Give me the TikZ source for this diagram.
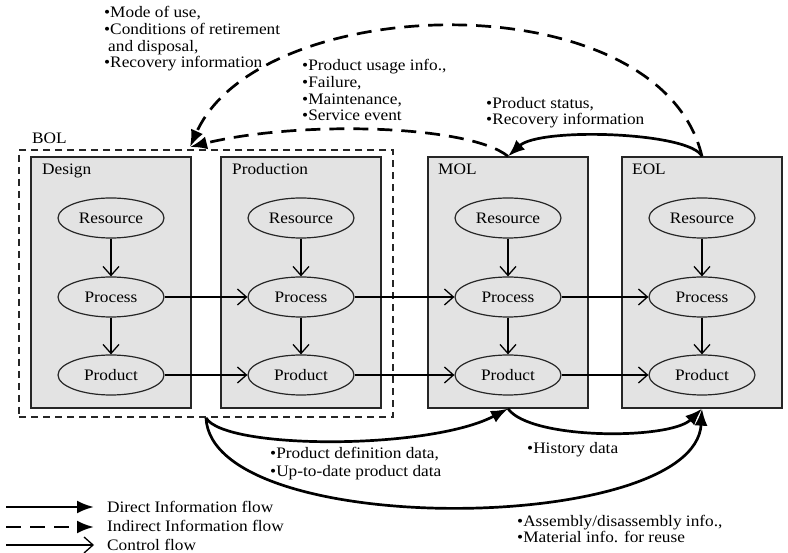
\documentclass[tikz,border=0pt]{standalone}
\usepackage{fontspec}
\setmainfont{Liberation Serif}[FakeStretch=1.08]
\usetikzlibrary{arrows.meta,shapes.geometric}

\tikzset{
  txt/.style={font=\fontsize{16}{16.8}\selectfont, inner sep=0pt, align=left},
  stage/.style={draw=black!85, line width=1.3pt, fill=black!11, minimum width=160pt, minimum height=251pt, inner sep=0pt},
  phase/.style={draw=black!85, line width=1.8pt, dash pattern=on 7pt off 5pt, minimum width=374pt, minimum height=267pt, inner sep=0pt},
  elem/.style={ellipse, draw=black!85, line width=1.2pt, fill=black!11, minimum width=106pt, minimum height=40pt, inner sep=0pt, font=\fontsize{16}{16.8}\selectfont},
  ctrl/.style={line width=1.3pt, -{Straight Barb[length=9pt,width=16pt,line width=1.3pt]}},
  direct/.style={line width=2.7pt, -{Latex[length=17pt,width=13pt]}},
  indirect/.style={line width=2.7pt, dash pattern=on 15pt off 9pt, -{Latex[length=17pt,width=13pt]}},
}

\begin{document}
\begin{tikzpicture}[x=1pt,y=-1pt]
\useasboundingbox (0,0) rectangle (788,553);
\fill[white] (0,0) rectangle (788,553);

% lifecycle stages
\node[phase] (bol) at (206,283.5) {};
\node[stage] (design) at (111,282.5) {};
\node[stage] (production) at (301,282.5) {};
\node[stage] (mol) at (508,282.5) {};
\node[stage] (eol) at (702,282.5) {};

\node[txt, anchor=base west] (bolname) at (32,144) {BOL};
\node[txt, anchor=base west] (designname) at (42,175) {Design};
\node[txt, anchor=base west] (prodname) at (232,175) {Production};
\node[txt, anchor=base west] (molname) at (438,175) {MOL};
\node[txt, anchor=base west] (eolname) at (632,175) {EOL};

% resource / process / product in each stage
\foreach \s/\x in {d/111, p/301, m/508, e/702} {
  \node[elem] (\s r) at (\x,218) {Resource};
  \node[elem] (\s c) at (\x,297) {Process};
  \node[elem] (\s d) at (\x,375) {Product};
  \draw[ctrl] (\s r) -- (\s c);
  \draw[ctrl] (\s c) -- (\s d);
}

% control flow between stages
\draw[ctrl] (dc) -- (pc);
\draw[ctrl] (pc) -- (mc);
\draw[ctrl] (mc) -- (ec);
\draw[ctrl] (dd) -- (pd);
\draw[ctrl] (pd) -- (md);
\draw[ctrl] (md) -- (ed);

% information flows above the stages
\coordinate (bolTop) at (190,147);
\draw[indirect] (eol.north) .. controls (660,-20) and (260,-10) .. (bolTop);
\draw[indirect] (mol.north) .. controls (470,125) and (300,120) .. (bolTop);
\draw[direct] (eol.north) .. controls (690,132) and (540,127) .. (mol.north);

% information flows below the stages
\draw[direct] (bol.south) .. controls (225,450) and (430,450) .. (mol.south);
\draw[direct] (bol.south) .. controls (212,540) and (695,535) .. (eol.south);
\draw[direct] (mol.south) .. controls (530,440) and (670,440) .. (eol.south);

% flow labels (anchored at the baseline of their last line)
\node[txt, anchor=base west] (t1) at (104,68) {•Mode of use,\\•Conditions of retirement\\\hspace*{4pt}and disposal,\\•Recovery information};
\node[txt, anchor=base west] (t2) at (302,121) {•Product usage info.,\\•Failure,\\•Maintenance,\\•Service event};
\node[txt, anchor=base west] (t3) at (486,125) {•Product status,\\•Recovery information};
\node[txt, anchor=base west] (t4) at (270,477) {•Product definition data,\\[1.2pt]•Up-to-date product data};
\node[txt, anchor=base west] (t5) at (527,454) {•History data};
\node[txt, anchor=base west] (t6) at (517,543) {•Assembly/disassembly info.,\\•Material info. for reuse};

% legend
\coordinate (la1) at (6,507);  \coordinate (lb1) at (94,507);
\coordinate (la2) at (6,527);  \coordinate (lb2) at (94,527);
\coordinate (la3) at (6,545);  \coordinate (lb3) at (94,545);
\draw[direct] (la1) -- (lb1);
\draw[indirect] (la2) -- (lb2);
\draw[ctrl] (la3) -- (lb3);
\node[txt, anchor=base west] (lg1) at (107,512) {Direct Information flow};
\node[txt, anchor=base west] (lg2) at (107,532) {Indirect Information flow};
\node[txt, anchor=base west] (lg3) at (107,550) {Control flow};
\end{tikzpicture}
\end{document}
